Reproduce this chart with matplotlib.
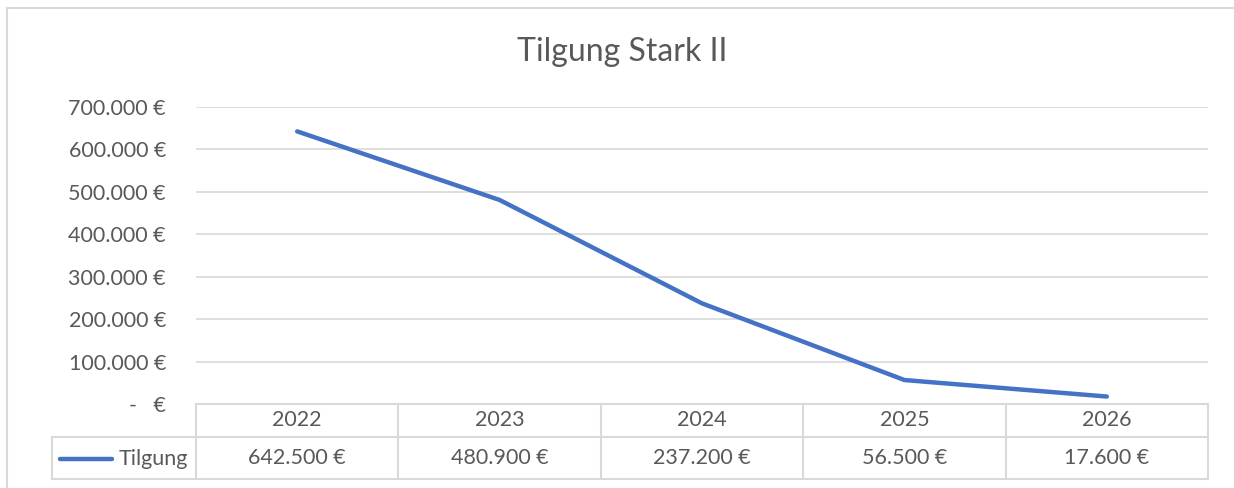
import matplotlib.pyplot as plt
from matplotlib.lines import Line2D

years = ["2022", "2023", "2024", "2025", "2026"]
tilgung = [642500, 480900, 237200, 56500, 17600]
series_name = "Tilgung"
title = "Tilgung Stark II"

W, H = 1234, 488
grid_c = "#d9d9d9"
text_c = "#595959"
line_c = "#4472C4"
fs = 15.5
plt.rcParams['font.family'] = ['Lato', 'DejaVu Sans']


def fmt_eur(v):
    if v == 0:
        return "-   €"
    return "{:,.0f} €".format(v).replace(",", ".")


def fx(px):
    return px / W


def fy(py):
    return 1 - py / H


fig = plt.figure(figsize=(W / 100, H / 100), dpi=100)

# plot area in pixels
left, right, top, bottom = 196, 1208, 107, 404
ax = fig.add_axes([fx(left), fy(bottom), fx(right - left), (bottom - top) / H])
x = list(range(len(years)))
ax.plot(x, tilgung, color=line_c, linewidth=3.2, solid_capstyle="round")
ax.set_xlim(-0.5, len(years) - 0.5)
ax.set_ylim(0, 700000)
yt = list(range(0, 700001, 100000))
ax.set_yticks(yt)
ax.set_yticklabels([fmt_eur(v) for v in yt], fontsize=fs, color=text_c)
ax.tick_params(axis="y", length=0, pad=21.6)
ax.set_xticks([])
for s in ax.spines.values():
    s.set_visible(False)
ax.grid(axis="y", color=grid_c, linewidth=1.2)
ax.set_axisbelow(True)

# title
fig.text(fx(622), fy(52), title, ha="center", va="center", fontsize=23, color=text_c)

# data table below the axes
col_w = (right - left) / len(years)
r0, r1, r2 = 404, 437, 479
lw = 1.5
fig.add_artist(Line2D([fx(left), fx(right)], [fy(r0), fy(r0)], color=grid_c, lw=lw))
fig.add_artist(Line2D([fx(52), fx(right)], [fy(r1), fy(r1)], color=grid_c, lw=lw))
fig.add_artist(Line2D([fx(52), fx(right)], [fy(r2), fy(r2)], color=grid_c, lw=lw))
fig.add_artist(Line2D([fx(52), fx(52)], [fy(r1), fy(r2)], color=grid_c, lw=lw))
for i in range(len(years) + 1):
    xp = left + i * col_w
    fig.add_artist(Line2D([fx(xp), fx(xp)], [fy(r0), fy(r2)], color=grid_c, lw=lw))
for i, (yr, v) in enumerate(zip(years, tilgung)):
    xc = left + (i + 0.5) * col_w
    fig.text(fx(xc), fy((r0 + r1) / 2), yr, ha="center", va="center", fontsize=fs, color=text_c)
    fig.text(fx(xc), fy((r1 + r2) / 2), fmt_eur(v), ha="center", va="center", fontsize=fs, color=text_c)

# legend key in the table
fig.add_artist(Line2D([fx(60), fx(112)], [fy(459), fy(459)], color=line_c, lw=3.2, solid_capstyle="round"))
fig.text(fx(188), fy(459), series_name, ha="right", va="center", fontsize=fs, color=text_c)

# outer chart border
fig.add_artist(Line2D([fx(7), fx(7)], [fy(8), 0], color=grid_c, lw=1.5))
fig.add_artist(Line2D([fx(7), 1], [fy(8), fy(8)], color=grid_c, lw=1.5))

fig.savefig("out.png", dpi=100)
